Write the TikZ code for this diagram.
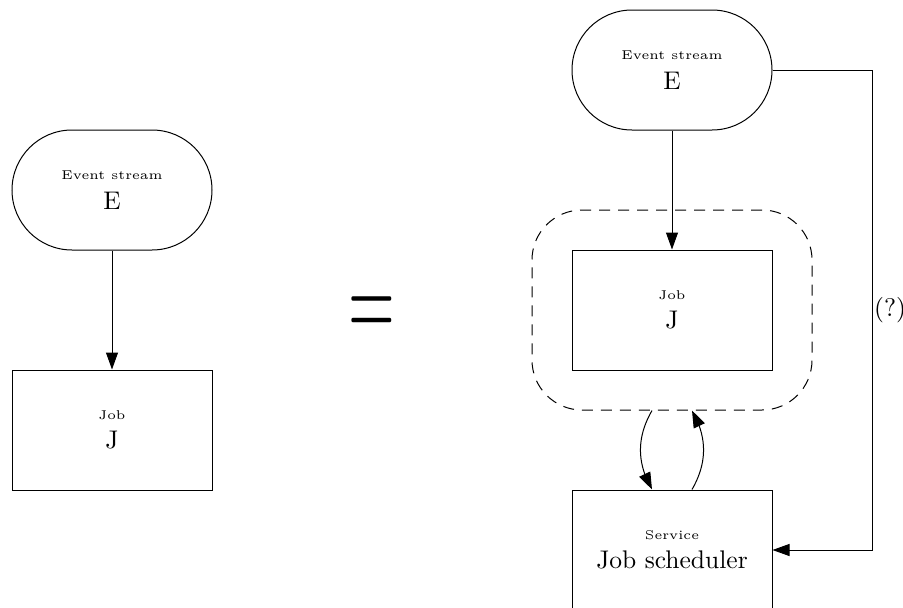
\documentclass[tikz,border=0pt]{standalone}
\usepackage{graphicx}
\usetikzlibrary{arrows.meta,bending}
% caption and label texts, enlarged
\newcommand\captxt[1]{\scalebox{2.55}{\tiny #1}}
\newcommand\maintxt[1]{\scalebox{2.55}{\normalsize #1}}
\begin{document}
\begin{tikzpicture}[x=1pt,y=-1pt,
  box/.style={draw, line width=1pt, minimum width=200pt, minimum height=120pt, inner sep=0pt},
  stream/.style={box, rounded corners=60pt},
  group/.style={draw, dash pattern=on 11pt off 8pt, line width=1pt,
                rounded corners=50pt, minimum width=280pt, minimum height=200pt, inner sep=0pt},
  flow/.style={line width=1pt, -{Triangle[length=17pt,width=12pt,flex]}},
  txt/.style={anchor=base, inner sep=0pt}]
\useasboundingbox (0,0) rectangle (903,608);

% left: stream feeding a job
\node[stream] (E1) at (112,190) {};
\node[txt] (E1a) at (112,179) {\captxt{Event stream}};
\node[txt] (E1b) at (112,209) {\maintxt{E}};
\node[box] (J1) at (112,430) {};
\node[txt] (J1a) at (112,419) {\captxt{Job}};
\node[txt] (J1b) at (112,448) {\maintxt{J}};
\draw[flow] (E1) -- (J1);

% equals sign
\node[txt] (eq) at (372,337.8) {\scalebox{6.0}[11.1]{\normalsize =}};

% right: the job inside a group, talking to a scheduler service
\node[group] (grp) at (672,310) {};
\node[stream] (E2) at (672,70) {};
\node[txt] (E2a) at (672,59) {\captxt{Event stream}};
\node[txt] (E2b) at (672,89) {\maintxt{E}};
\node[box] (J2) at (672,310) {};
\node[txt] (J2a) at (672,299) {\captxt{Job}};
\node[txt] (J2b) at (672,328) {\maintxt{J}};
\node[box] (S) at (672,550) {};
\node[txt] (Sa) at (672,539) {\captxt{Service}};
\node[txt] (Sb) at (672,568) {\maintxt{Job scheduler}};

\draw[flow] (E2) -- (J2);
\draw[flow] ([xshift=-20pt]grp.south) to[bend right=30] ([xshift=-20pt]S.north);
\draw[flow] ([xshift=20pt]S.north) to[bend right=30] ([xshift=20pt]grp.south);

\coordinate (turn) at (872,70);
\draw[flow] (E2.east) -- (turn) |- (S.east);
\node[anchor=west, inner sep=0pt] (q) at (874,310) {\maintxt{(?)}};
\end{tikzpicture}
\end{document}
